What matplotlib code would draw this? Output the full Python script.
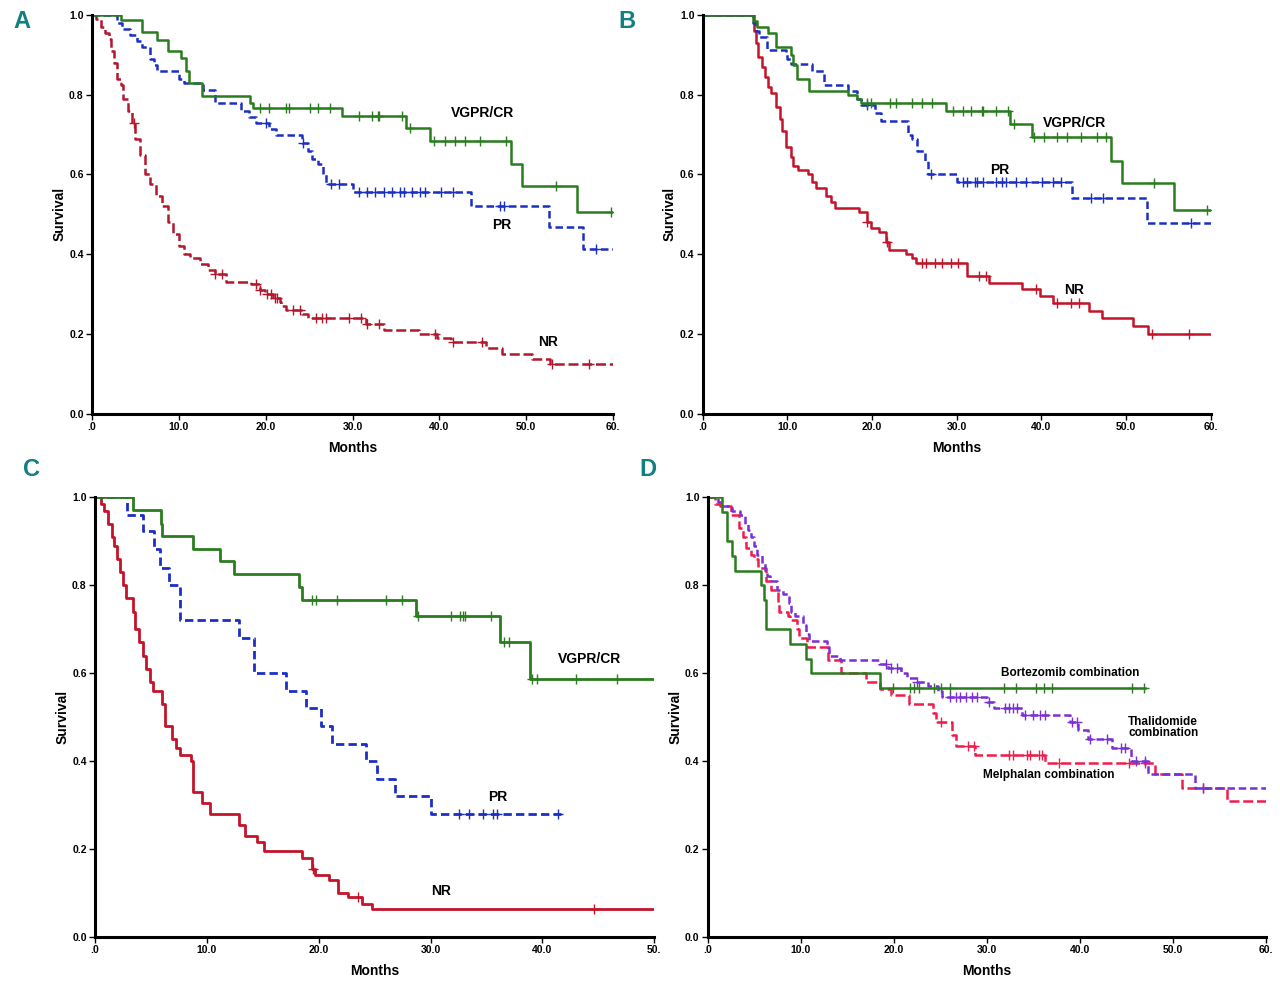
import numpy as np
import matplotlib
matplotlib.use("Agg")
import matplotlib.pyplot as plt

plt.rcParams['font.family'] = ['Liberation Sans', 'DejaVu Sans']

# ---------------- Panel A ----------------
a_vg_t = [3.3, 5.75, 7.5, 8.7, 10.3, 10.8, 11.2, 12.7, 18.2, 18.5, 28.8, 36.2, 38.9, 48.2, 49.5, 55.8]
a_vg_s = [0.987, 0.956, 0.938, 0.909, 0.892, 0.86, 0.829, 0.797, 0.78, 0.767, 0.747, 0.716, 0.683, 0.627, 0.57, 0.506]
a_vg_c = [19.4, 20.4, 22.3, 22.7, 25.1, 26.0, 27.4, 30.7, 32.2, 32.9, 33.1, 35.7, 36.6,
          39.4, 40.7, 41.8, 43.0, 44.7, 47.7, 53.4, 59.8]
a_pr_t = [2.9, 3.4, 4.4, 5.2, 5.8, 6.7, 7.1, 7.5, 10.0, 10.6, 12.8, 14.2, 17.1, 18.1, 18.9, 20.4, 21.2,
          24.2, 24.9, 25.3, 26.0, 26.6, 26.9, 30.0, 43.7, 52.6, 56.6]
a_pr_s = [0.98, 0.965, 0.95, 0.935, 0.92, 0.89, 0.875, 0.859, 0.84, 0.828, 0.811, 0.779, 0.76, 0.745, 0.73,
          0.715, 0.698, 0.68, 0.66, 0.64, 0.627, 0.60, 0.577, 0.556, 0.52, 0.468, 0.414]
a_pr_c = [20.0, 24.3, 27.5, 28.4, 30.8, 31.7, 32.6, 33.6, 34.5, 35.5, 35.9, 36.9, 37.8, 38.3, 40.2, 41.6,
          47.0, 47.4, 58.0]
a_nr_t = [0.4, 1.0, 1.5, 1.9, 2.2, 2.5, 2.9, 3.3, 3.6, 4.1, 4.6, 5.0, 5.5, 6.1, 6.7, 7.4, 8.1, 8.7, 9.3,
          10.0, 10.6, 11.3, 12.4, 13.3, 14.2, 15.4, 18.3, 19.4, 19.9, 20.8, 21.6, 21.8, 22.3, 24.2, 24.9,
          31.5, 33.6, 37.6, 39.7, 41.4, 45.4, 47.2, 50.7, 52.7]
a_nr_s = [0.99, 0.97, 0.955, 0.94, 0.91, 0.88, 0.84, 0.825, 0.79, 0.76, 0.73, 0.69, 0.65, 0.60, 0.575,
          0.545, 0.52, 0.48, 0.45, 0.42, 0.40, 0.39, 0.375, 0.36, 0.35, 0.33, 0.325, 0.31, 0.30, 0.29,
          0.28, 0.27, 0.26, 0.25, 0.24, 0.225, 0.21, 0.20, 0.19, 0.18, 0.165, 0.15, 0.138, 0.125]
a_nr_c = [4.8, 14.2, 15.0, 18.9, 19.4, 20.1, 20.6, 21.1, 21.3, 23.2, 23.9, 25.8, 26.5, 27.0, 29.6, 31.0,
          31.7, 33.1, 39.5, 41.6, 44.9, 53.0, 57.2]

# ---------------- Panel B ----------------
b_vg_t = [5.9, 6.4, 7.7, 8.7, 10.4, 10.7, 11.1, 12.5, 17.2, 18.2, 18.7, 28.7, 36.3, 38.9, 48.2, 49.5, 55.7]
b_vg_s = [0.985, 0.97, 0.955, 0.92, 0.90, 0.875, 0.84, 0.81, 0.80, 0.79, 0.778, 0.758, 0.727, 0.693,
          0.635, 0.578, 0.512]
b_vg_c = [19.4, 19.9, 22.1, 22.8, 24.7, 25.9, 27.1, 29.5, 30.7, 31.7, 33.0, 33.1, 34.6, 36.0, 36.7,
          39.1, 40.3, 41.8, 43.0, 44.7, 46.6, 47.6, 53.3, 59.6]
b_pr_t = [5.9, 6.3, 6.6, 7.6, 9.8, 10.0, 10.4, 12.9, 14.3, 17.2, 18.2, 18.7, 20.4, 21.1, 24.2, 24.7,
          25.3, 26.3, 26.6, 30.0, 43.6, 52.5]
b_pr_s = [0.98, 0.96, 0.945, 0.913, 0.905, 0.89, 0.876, 0.86, 0.825, 0.81, 0.79, 0.775, 0.755, 0.735,
          0.70, 0.69, 0.66, 0.635, 0.60, 0.58, 0.54, 0.478]
b_pr_c = [19.4, 27.0, 30.7, 31.2, 32.2, 32.4, 33.1, 34.6, 35.3, 35.8, 37.0, 38.2, 40.1, 41.3, 42.3,
          45.9, 47.3, 57.7]
b_nr_t = [6.1, 6.3, 6.5, 7.0, 7.4, 7.7, 8.1, 8.7, 9.1, 9.4, 9.8, 10.4, 10.7, 11.2, 12.4, 12.9, 13.4,
          14.6, 15.1, 15.6, 18.4, 19.4, 19.9, 20.8, 21.6, 22.0, 24.0, 24.7, 25.2, 31.2, 33.8, 37.7, 39.8,
          41.3, 45.6, 47.2, 50.8, 52.6]
b_nr_s = [0.96, 0.93, 0.895, 0.87, 0.845, 0.82, 0.805, 0.77, 0.74, 0.71, 0.67, 0.645, 0.62, 0.612,
          0.60, 0.58, 0.565, 0.545, 0.53, 0.515, 0.505, 0.48, 0.465, 0.455, 0.43, 0.41, 0.40, 0.39,
          0.377, 0.345, 0.328, 0.312, 0.295, 0.278, 0.258, 0.24, 0.22, 0.20]
b_nr_c = [19.4, 21.8, 25.9, 26.4, 27.4, 28.3, 29.3, 30.2, 32.6, 33.4, 39.4, 41.8, 43.5, 44.4, 53.1, 57.4]

# ---------------- Panel C ----------------
c_vg_t = [3.4, 5.9, 5.95, 8.8, 11.2, 12.4, 18.2, 18.5, 28.7, 36.2, 38.9]
c_vg_s = [0.972, 0.94, 0.913, 0.883, 0.855, 0.825, 0.795, 0.766, 0.73, 0.67, 0.586]
c_vg_c = [19.4, 19.8, 21.6, 26.0, 27.4, 28.9, 31.8, 32.6, 32.9, 33.1, 35.4, 36.6, 37.0, 39.1, 39.5,
          43.0, 46.7]
c_pr_t = [2.9, 4.3, 5.3, 5.8, 6.6, 7.6, 12.9, 14.2, 17.1, 18.9, 20.2, 21.2, 24.2, 25.2, 26.8, 30.0]
c_pr_s = [0.96, 0.924, 0.883, 0.84, 0.80, 0.72, 0.68, 0.60, 0.56, 0.52, 0.48, 0.44, 0.40, 0.36, 0.32, 0.28]
c_pr_c = [32.5, 33.4, 34.7, 35.6, 35.9, 41.4]
c_pr_end = 41.7
c_nr_t = [0.5, 0.8, 1.2, 1.5, 1.7, 2.0, 2.2, 2.5, 2.8, 3.4, 3.6, 3.9, 4.3, 4.6, 4.9, 5.2, 6.0, 6.3, 6.9,
          7.2, 7.6, 8.6, 8.8, 9.6, 10.3, 12.9, 13.4, 14.5, 15.1, 18.5, 19.4, 19.7, 20.9, 21.7, 22.6,
          23.9, 24.8]
c_nr_s = [0.985, 0.97, 0.94, 0.91, 0.89, 0.86, 0.83, 0.80, 0.77, 0.74, 0.70, 0.67, 0.64, 0.61, 0.58,
          0.56, 0.53, 0.48, 0.45, 0.43, 0.415, 0.40, 0.33, 0.305, 0.28, 0.255, 0.23, 0.215, 0.195, 0.18,
          0.155, 0.14, 0.13, 0.10, 0.09, 0.075, 0.063]
c_nr_c = [19.5, 23.5, 44.6]

# ---------------- Panel D ----------------
d_bz_t = [1.5, 2.1, 2.6, 2.9, 5.7, 6.0, 6.2, 8.8, 10.5, 11.1, 18.5]
d_bz_s = [0.967, 0.90, 0.867, 0.833, 0.80, 0.767, 0.70, 0.667, 0.633, 0.60, 0.567]
d_bz_c = [19.9, 21.7, 22.2, 22.7, 24.3, 25.1, 26.0, 31.8, 33.1, 35.3, 36.1, 37.0, 45.6, 46.9]
d_bz_end = 47.0
d_th_t = [1.05, 1.5, 2.6, 3.5, 4.0, 4.3, 4.6, 5.0, 5.3, 5.8, 6.1, 6.4, 6.7, 7.4, 8.1, 8.7, 8.9, 9.4,
          10.2, 10.6, 10.9, 12.8, 13.0, 14.2, 18.4, 19.4, 20.8, 21.4, 22.5, 23.7, 24.7, 25.2, 30.0, 30.8,
          33.8, 38.9, 39.8, 40.9, 43.5, 45.5, 47.3, 52.4]
d_th_s = [0.99, 0.98, 0.97, 0.96, 0.94, 0.925, 0.91, 0.89, 0.87, 0.85, 0.83, 0.82, 0.81, 0.79, 0.78,
          0.76, 0.74, 0.73, 0.71, 0.69, 0.673, 0.66, 0.64, 0.63, 0.62, 0.612, 0.60, 0.59, 0.58, 0.57,
          0.56, 0.545, 0.535, 0.52, 0.505, 0.49, 0.47, 0.45, 0.43, 0.40, 0.37, 0.34]
d_th_c = [19.2, 19.7, 20.3, 22.5, 26.0, 26.7, 27.1, 27.8, 28.4, 28.9, 30.2, 31.9, 32.4, 32.8, 33.2,
          34.1, 35.0, 35.7, 36.3, 39.2, 39.7, 41.1, 42.9, 44.4, 44.9, 46.0, 47.0, 53.2]
d_me_t = [0.8, 1.3, 2.5, 3.4, 3.8, 4.1, 4.6, 5.0, 5.4, 6.3, 6.8, 7.5, 7.7, 8.6, 8.8, 9.6, 9.8, 10.7,
          12.9, 14.3, 17.0, 18.5, 19.7, 21.6, 24.2, 24.5, 26.3, 26.7, 28.7, 36.3, 48.1, 51.0, 55.8]
d_me_s = [0.985, 0.98, 0.96, 0.93, 0.91, 0.885, 0.87, 0.86, 0.84, 0.81, 0.79, 0.76, 0.74, 0.73, 0.72,
          0.70, 0.68, 0.66, 0.63, 0.60, 0.58, 0.565, 0.55, 0.53, 0.51, 0.49, 0.46, 0.435, 0.415, 0.395,
          0.37, 0.34, 0.31]
d_me_c = [25.1, 28.0, 28.6, 32.4, 32.8, 34.3, 34.6, 35.6, 35.9, 37.8, 45.3, 47.0, 53.2]

GREEN = '#2a7d1e'
BLUE = '#1c2fc4'
RED_A = '#b3172e'
RED = '#c3142a'
PURPLE = '#7b2fd6'
PINK = '#ee1d4b'


def km(ax, t, s, cens, end, color, ls='-', lw=1.8):
    x = [0] + list(t) + [end]
    y = [1.0] + list(s) + [s[-1]]
    ax.step(x, y, where='post', color=color, linestyle=ls, lw=lw)
    tt = np.array([0] + list(t))
    ss = np.array([1.0] + list(s))
    cy = [ss[np.searchsorted(tt, c, side='right') - 1] for c in cens]
    ax.plot(cens, cy, linestyle='none', marker='+', ms=7, mew=1.0, color=color)


def style(ax, xmax, step):
    ax.set_xlim(0, xmax)
    ax.set_ylim(0, 1.0)
    for sp in ['top', 'right']:
        ax.spines[sp].set_visible(False)
    for sp in ['left', 'bottom']:
        ax.spines[sp].set_linewidth(2.2)
    xt = np.arange(0, xmax + 1, step)
    labels = ['.0'] + ['%.1f' % v for v in xt[1:-1]] + ['%d.' % xt[-1]]
    ax.set_xticks(xt)
    ax.set_xticklabels(labels)
    ax.set_yticks([0, 0.2, 0.4, 0.6, 0.8, 1.0])
    ax.set_yticklabels(['0.0', '0.2', '0.4', '0.6', '0.8', '1.0'])
    ax.tick_params(labelsize=7.5, length=4, width=1, pad=2)
    for lab in ax.get_xticklabels() + ax.get_yticklabels():
        lab.set_fontweight('bold')
    ax.set_xlabel('Months', fontsize=10, fontweight='bold', labelpad=6)
    ax.set_ylabel('Survival', fontsize=10, fontweight='bold', labelpad=2)


fig = plt.figure(figsize=(12.8, 9.88), dpi=100)
axA = fig.add_axes([0.0719, 0.581, 0.407, 0.404])
axB = fig.add_axes([0.549, 0.581, 0.397, 0.404])
axC = fig.add_axes([0.0742, 0.0516, 0.437, 0.445])
axD = fig.add_axes([0.553, 0.0516, 0.436, 0.445])

km(axA, a_nr_t, a_nr_s, a_nr_c, 60, RED_A, ls=(0, (4, 1.5)))
km(axA, a_pr_t, a_pr_s, a_pr_c, 60, BLUE, ls=(0, (3, 1.5)))
km(axA, a_vg_t, a_vg_s, a_vg_c, 60, GREEN)
style(axA, 60, 10)
axA.text(45.0, 0.754, 'VGPR/CR', fontsize=10, fontweight='bold', ha='center', va='center')
axA.text(47.2, 0.474, 'PR', fontsize=10, fontweight='bold', ha='center', va='center')
axA.text(52.5, 0.18, 'NR', fontsize=10, fontweight='bold', ha='center', va='center')

km(axB, b_nr_t, b_nr_s, b_nr_c, 60, RED)
km(axB, b_pr_t, b_pr_s, b_pr_c, 60, BLUE, ls=(0, (3, 1.5)))
km(axB, b_vg_t, b_vg_s, b_vg_c, 60, GREEN)
style(axB, 60, 10)
axB.text(43.9, 0.729, 'VGPR/CR', fontsize=10, fontweight='bold', ha='center', va='center')
axB.text(35.1, 0.61, 'PR', fontsize=10, fontweight='bold', ha='center', va='center')
axB.text(43.9, 0.311, 'NR', fontsize=10, fontweight='bold', ha='center', va='center')

km(axC, c_nr_t, c_nr_s, c_nr_c, 50, RED, lw=2.0)
km(axC, c_pr_t, c_pr_s, c_pr_c, c_pr_end, BLUE, ls=(0, (3, 1.5)), lw=2.0)
km(axC, c_vg_t, c_vg_s, c_vg_c, 50, GREEN, lw=2.0)
style(axC, 50, 10)
axC.text(44.2, 0.632, 'VGPR/CR', fontsize=10, fontweight='bold', ha='center', va='center')
axC.text(36.0, 0.318, 'PR', fontsize=10, fontweight='bold', ha='center', va='center')
axC.text(30.9, 0.105, 'NR', fontsize=10, fontweight='bold', ha='center', va='center')

km(axD, d_me_t, d_me_s, d_me_c, 60, PINK, ls=(0, (4, 1.5)))
km(axD, d_th_t, d_th_s, d_th_c, 60, PURPLE, ls=(0, (3, 1.5)))
km(axD, d_bz_t, d_bz_s, d_bz_c, d_bz_end, GREEN)
style(axD, 60, 10)
axD.text(39.0, 0.60, 'Bortezomib combination', fontsize=8.5, fontweight='bold', ha='center', va='center')
axD.text(45.2, 0.477, 'Thalidomide\ncombination', fontsize=8.5, fontweight='bold', ha='left',
         va='center', linespacing=0.95)
axD.text(36.6, 0.368, 'Melphalan combination', fontsize=8.5, fontweight='bold', ha='center', va='center')

TEAL = '#127f80'
for lab, x, y in [('A', 22, 22), ('B', 627, 22), ('C', 32, 470), ('D', 648, 470)]:
    fig.text(x / 1280, 1 - y / 988, lab, fontsize=17, fontweight='bold', color=TEAL,
             ha='center', va='center', fontstretch='condensed')

fig.savefig('out.png', dpi=100)
